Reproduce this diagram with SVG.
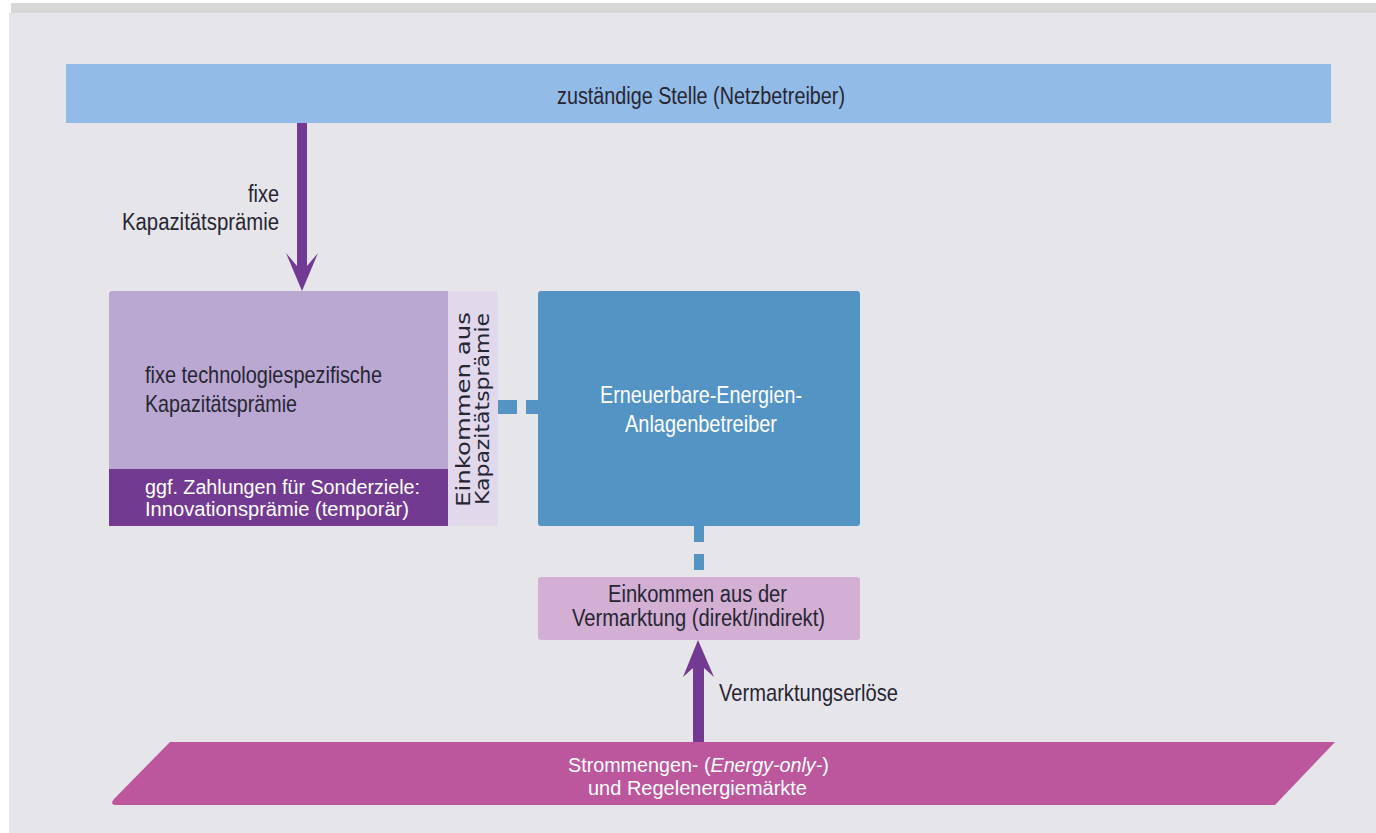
<svg xmlns="http://www.w3.org/2000/svg" width="1376" height="833" viewBox="0 0 1376 833">
  <style>
    .t { font-family: "Liberation Sans", Arial, sans-serif; fill: #262633; }
    .w { fill: #ffffff; }
    .v { font-family: "DejaVu Sans", "Liberation Sans", sans-serif; fill: #262633; font-size: 19px; }
    .arrow { fill: #733A93; }
    .dash { stroke: #5394C5; fill: none; }
  </style>
  <rect x="0" y="0" width="1376" height="833" fill="#ffffff"/>
  <rect x="11" y="3" width="1365" height="10" fill="#D7D7D7"/>
  <rect x="9" y="13" width="1367" height="820" fill="#E6E5EA"/>

  <g id="netzbetreiber">
    <rect x="66" y="64" width="1265" height="59" fill="#93BBE8"/>
    <text class="t" x="557" y="104" font-size="23" textLength="288" lengthAdjust="spacingAndGlyphs">zuständige Stelle (Netzbetreiber)</text>
  </g>

  <g id="kapazitaetspraemie">
    <path d="M112,291 H448 V526 H109 V294 Q109,291 112,291 Z" fill="#BBA8D2"/>
    <rect x="109" y="469" width="339" height="57" fill="#733A91"/>
    <text class="t" x="145" y="383" font-size="24" textLength="237" lengthAdjust="spacingAndGlyphs">fixe technologiespezifische</text>
    <text class="t" x="145" y="412" font-size="24" textLength="152" lengthAdjust="spacingAndGlyphs">Kapazitätsprämie</text>
    <text class="t w" x="145" y="494" font-size="20" textLength="275" lengthAdjust="spacingAndGlyphs">ggf. Zahlungen für Sonderziele:</text>
    <text class="t w" x="145" y="516" font-size="20" textLength="264" lengthAdjust="spacingAndGlyphs">Innovationsprämie (temporär)</text>
  </g>

  <g id="einkommen-kapazitaet">
    <path d="M448,291 H495 Q498,291 498,294 V523 Q498,526 495,526 H448 Z" fill="#E1D8EC"/>
    <text class="v" transform="translate(470,409.5) rotate(-90)" text-anchor="middle" textLength="195" lengthAdjust="spacingAndGlyphs">Einkommen aus</text>
    <text class="v" transform="translate(489,409) rotate(-90)" text-anchor="middle" textLength="192" lengthAdjust="spacingAndGlyphs">Kapazitätsprämie</text>
  </g>

  <g id="anlagenbetreiber">
    <rect x="538" y="291" width="322" height="235" rx="3" fill="#5394C5"/>
    <text class="t w" x="600" y="403" font-size="24" textLength="202" lengthAdjust="spacingAndGlyphs">Erneuerbare-Energien-</text>
    <text class="t w" x="625" y="432" font-size="24" textLength="152" lengthAdjust="spacingAndGlyphs">Anlagenbetreiber</text>
  </g>

  <g id="einkommen-vermarktung">
    <rect x="538" y="577" width="322" height="63" rx="3" fill="#D3AFD4"/>
    <text class="t" x="608" y="602" font-size="23" textLength="179" lengthAdjust="spacingAndGlyphs">Einkommen aus der</text>
    <text class="t" x="572" y="626" font-size="23" textLength="253" lengthAdjust="spacingAndGlyphs">Vermarktung (direkt/indirekt)</text>
  </g>

  <g id="maerkte">
    <path d="M170,742 H1335 L1275,805 H117 Q109,805 114,799 Z" fill="#BC569D"/>
    <text class="t w" transform="translate(568,772) scale(0.94,1)" x="0" y="0" font-size="21">Strommengen- (<tspan font-style="italic">Energy-only-</tspan>)</text>
    <text class="t w" x="588" y="795" font-size="21" textLength="219" lengthAdjust="spacingAndGlyphs">und Regelenergiemärkte</text>
  </g>

  <g id="connectors">
    <path class="arrow" d="M297,123 H307 V266 L318,253 L302,291 L286,253 L297,266 Z"/>
    <text class="t" x="279" y="202" font-size="23" text-anchor="end" textLength="31" lengthAdjust="spacingAndGlyphs">fixe</text>
    <text class="t" x="279" y="230" font-size="23" text-anchor="end" textLength="157" lengthAdjust="spacingAndGlyphs">Kapazitätsprämie</text>

    <line class="dash" x1="498" y1="407" x2="538" y2="407" stroke-width="14" stroke-dasharray="19 9"/>
    <line class="dash" x1="699" y1="526" x2="699" y2="577" stroke-width="10" stroke-dasharray="16 12"/>

    <path class="arrow" d="M693,742 V668 L683,677 L698,640 L714,677 L704,668 V742 Z"/>
    <text class="t" x="719" y="701" font-size="24" textLength="179" lengthAdjust="spacingAndGlyphs">Vermarktungserlöse</text>
  </g>
</svg>
